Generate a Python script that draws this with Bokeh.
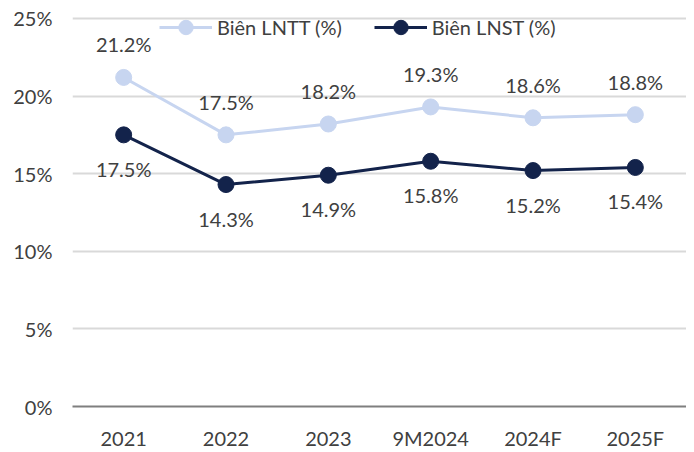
from bokeh.plotting import figure
from bokeh.models import (ColumnDataSource, Legend, LegendItem, FactorRange, LabelSet,
                          FixedTicker, CustomJSTickFormatter, Range1d)
from bokeh.core.properties import value
from bokeh.embed import file_html
from bokeh.resources import INLINE

categories = ["2021", "2022", "2023", "9M2024", "2024F", "2025F"]
lntt = [21.2, 17.5, 18.2, 19.3, 18.6, 18.8]
lnst = [17.5, 14.3, 14.9, 15.8, 15.2, 15.4]
name_lntt = "Biên LNTT (%)"
name_lnst = "Biên LNST (%)"
y_ticks = [0, 5, 10, 15, 20, 25]

FONT = "Lato"
TXT = "#404040"
C1 = "#c7d5f0"
C2 = "#13234b"
FS = "20px"

src = ColumnDataSource(dict(
    x=categories, a=lntt, b=lnst,
    la=[f"{v:.1f}%" for v in lntt], lb=[f"{v:.1f}%" for v in lnst],
))

# 25% gridline sits 10px below the frame top (390px per 25 units)
p = figure(x_range=FactorRange(*categories, range_padding=0), y_range=Range1d(0, 25 + 25 * 10 / 390),
           width=686, height=452,
           output_backend="svg", toolbar_location=None,
           min_border_left=72, min_border_right=0, min_border_top=8, min_border_bottom=44)
p.outline_line_color = None
p.background_fill_color = "white"
p.border_fill_color = "white"

p.yaxis.ticker = FixedTicker(ticks=y_ticks)
p.yaxis.formatter = CustomJSTickFormatter(code="return tick + '%';")
p.yaxis.axis_line_color = None
p.yaxis.major_tick_line_color = None
p.yaxis.major_tick_out = 0
p.yaxis.minor_tick_line_color = None
p.yaxis.major_label_text_font = FONT
p.yaxis.major_label_text_font_size = FS
p.yaxis.major_label_text_color = TXT
p.yaxis.major_label_standoff = 20

p.xaxis.axis_line_color = "#7f7f7f"
p.xaxis.axis_line_width = 2
p.xaxis.major_tick_line_color = None
p.xaxis.major_tick_out = 0
p.xaxis.minor_tick_line_color = None
p.xaxis.major_label_text_font = FONT
p.xaxis.major_label_text_font_size = FS
p.xaxis.major_label_text_color = TXT
p.xaxis.major_label_standoff = 19

p.xgrid.grid_line_color = None
p.ygrid.grid_line_color = "#d9d9d9"
p.ygrid.grid_line_width = 2

l1 = p.line("x", "a", source=src, line_color=C1, line_width=3)
s1 = p.scatter("x", "a", source=src, size=16, fill_color=C1, line_color=C1)
l2 = p.line("x", "b", source=src, line_color=C2, line_width=3)
s2 = p.scatter("x", "b", source=src, size=16, fill_color=C2, line_color=C2)

lab1 = LabelSet(x="x", y="a", text="la", source=src, text_align="center", text_baseline="bottom",
                y_offset=21, text_font=value(FONT), text_font_size=value(FS), text_color=value(TXT))
lab2 = LabelSet(x="x", y="b", text="lb", source=src, text_align="center", text_baseline="top",
                y_offset=-22, text_font=value(FONT), text_font_size=value(FS), text_color=value(TXT))
p.add_layout(lab1)
p.add_layout(lab2)

legend = Legend(items=[LegendItem(label=name_lntt, renderers=[l1, s1]),
                       LegendItem(label=name_lnst, renderers=[l2, s2])],
                orientation="horizontal", location=(87, 361),
                background_fill_alpha=0, border_line_color=None,
                label_text_font=FONT, label_text_font_size=FS, label_text_color=TXT,
                glyph_width=53, glyph_height=36, spacing=32, margin=0, padding=0,
                label_standoff=5)
p.add_layout(legend)

open("out.html", "w").write(file_html(p, INLINE))
